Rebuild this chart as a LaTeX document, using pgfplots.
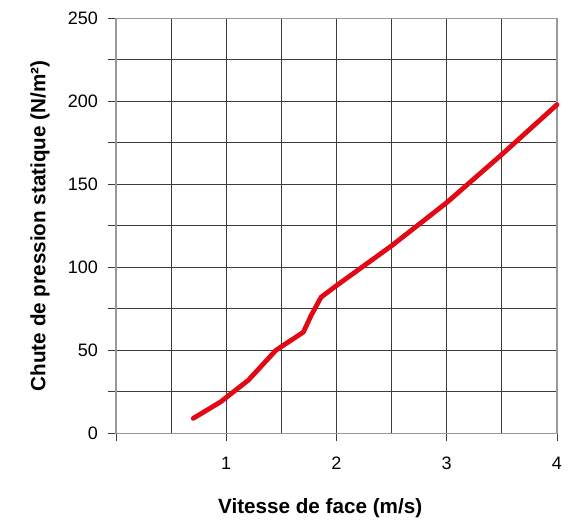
\documentclass[border=0pt]{standalone}
\usepackage{pgfplots}
\pgfplotsset{compat=1.18}
\usepackage{fontspec}
\setmainfont{Liberation Sans}
\definecolor{curvered}{RGB}{226,8,20}
\definecolor{gridgray}{RGB}{60,60,60}
\begin{document}
\begin{tikzpicture}[x=1pt,y=1pt]
% frame the page to the reference's size (579x520 px at 0.75pt/px)
\path[use as bounding box] (-87,-65) rectangle (347.25,325);
\begin{axis}[
    at={(0,0)}, anchor=origin,
    scale only axis,
    width=330.75pt, height=311.25pt,
    xmin=0, xmax=4, ymin=0, ymax=250,
    xtick={0,1,2,3,4},
    xticklabels={,1,2,3,4},
    minor xtick={0.5,1.5,2.5,3.5},
    ytick={0,50,100,150,200,250},
    minor ytick={25,75,125,175,225},
    grid=both,
    major grid style={gridgray, line width=0.6pt},
    minor grid style={gridgray, line width=0.6pt},
    axis line style={black!40, line width=1pt},
    tick style={gridgray, line width=0.6pt},
    major tick length=6pt, minor tick length=6pt,
    xtick pos=bottom, ytick pos=left,
    tick align=outside,
    minor x tick style={draw=none},
    tick label style={font=\fontsize{13.5}{15}\selectfont},
    xticklabel style={yshift=-8pt},
    yticklabel style={xshift=-4pt},
    xlabel={\textbf{Vitesse de face (m/s)}},
    ylabel={\textbf{Chute de pression statique (N/m²)}},
    label style={font=\fontsize{15.5}{17}\selectfont},
    xlabel style={at={(axis description cs:0.463,0)}, anchor=north, yshift=-45pt},
    ylabel style={at={(axis description cs:-0.172,0.5)}, anchor=center, rotate=0},
    /pgf/number format/assume math mode=true,
    clip=false,
]
\addplot[curvered, line width=3.6pt, line cap=round, line join=round] coordinates {
    (0.70,9) (0.95,19) (1.20,32) (1.45,50) (1.70,61) (1.77,71) (1.86,82)
    (2.00,89) (2.50,113) (3.00,139) (3.50,168) (4.00,198)
};
\end{axis}
\end{tikzpicture}
\end{document}
